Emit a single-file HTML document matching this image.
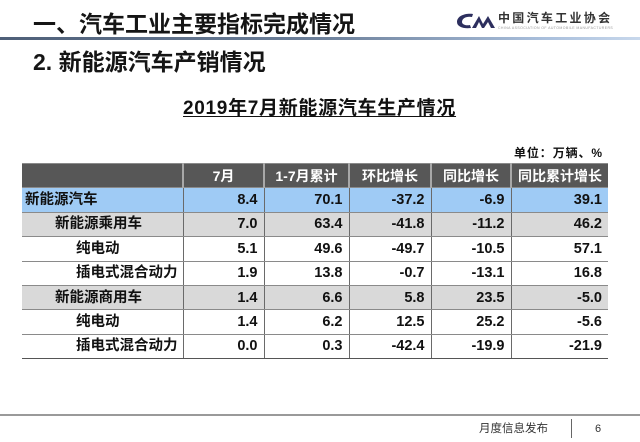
<!DOCTYPE html>
<html><head><meta charset="utf-8">
<style>
*{margin:0;padding:0;box-sizing:border-box}
body{width:640px;height:442px;background:#fff;position:relative;overflow:hidden;font-family:"Liberation Sans","Noto Sans CJK SC",sans-serif;color:#111}
.abs{position:absolute;white-space:nowrap}
.h1{left:33px;top:10px;font-size:23px;font-weight:bold;line-height:28px;color:#151515}
.h2{left:33px;top:48px;font-size:23px;font-weight:bold;line-height:28px;color:#151515}
.rule{left:0;top:37px;width:640px;height:3px;background:linear-gradient(to right,#4e5f78 0%,#6c7f99 50%,#a9bfdc 85%,#c8d8ec 100%)}
.title{left:183px;top:98px;font-size:19px;font-weight:bold;line-height:22px;text-decoration:underline;letter-spacing:0.7px;text-underline-offset:2px}
.unit{left:514px;top:146px;font-size:12px;font-weight:bold;line-height:14px;letter-spacing:0.9px}
table{position:absolute;left:22px;top:163px;border-collapse:collapse;font-weight:bold}
td{height:24.4px;font-size:14.5px;text-align:right;padding:0 6px 0 0;border-left:1.5px solid #6a6a6a;border-bottom:1px solid #8a8a8a;line-height:22px}
td:first-child{text-align:left;border-left:none;padding:0}
tr.hd td{background:#575757;color:#fff;text-align:center;padding:0;font-size:14px;border-left:2px solid #a8a8a8;border-top:1px solid #8a8a8a;border-bottom:1px solid #8a8a8a}
tr.hd td:first-child{border-left:none}
tr.b td{background:#9fcbf5}
tr.g td{background:#d9d9d9}
tr.last td{border-bottom:1.5px solid #555}
.foot{left:0;top:414px;width:640px;height:1.5px;background:#9a9a9a}
.ft{left:479px;top:422px;font-size:11.5px;color:#333;line-height:14px}
.sep{left:571px;top:419px;width:1px;height:19px;background:#666}
.pg{left:595px;top:422px;font-size:11px;color:#333;line-height:14px}
</style></head><body>
<div class="abs h1">一、汽车工业主要指标完成情况</div>
<div class="abs rule"></div>
<svg class="abs" style="left:455px;top:12px" width="42" height="18" viewBox="0 0 42 18">
<path d="M18 2 C10 1,2 4,2 10 C2 15,9 17,16 16 L15 13 C10 14,7 12,7 10 C7 6,12 4,17 5 Z" fill="#2d2f5e"/>
<path d="M17 16 L24 4 L28 12 L33 4 L40 16 L36 16 L33 10 L29 16 L27 16 L24 10 L21 16 Z" fill="#2d2f5e"/>
</svg>
<div class="abs" style="left:498px;top:11px;font-size:12px;font-weight:bold;letter-spacing:2.3px;color:#333;line-height:14px">中国汽车工业协会</div>
<div class="abs" style="left:498px;top:26px;font-size:3.5px;color:#999;letter-spacing:0.4px;line-height:4px">CHINA ASSOCIATION OF AUTOMOBILE MANUFACTURERS</div>
<div class="abs h2">2. 新能源汽车产销情况</div>
<div class="abs title">2019年7月新能源汽车生产情况</div>
<div class="abs unit">单位：万辆、%</div>
<table>
<colgroup><col style="width:161px"><col style="width:81px"><col style="width:85px"><col style="width:82px"><col style="width:80px"><col style="width:97px"></colgroup>
<tr class="hd"><td></td><td>7月</td><td>1-7月累计</td><td>环比增长</td><td>同比增长</td><td>同比累计增长</td></tr>
<tr class="b"><td style="padding-left:3px">新能源汽车</td><td>8.4</td><td>70.1</td><td>-37.2</td><td>-6.9</td><td>39.1</td></tr>
<tr class="g"><td style="padding-left:33px">新能源乘用车</td><td>7.0</td><td>63.4</td><td>-41.8</td><td>-11.2</td><td>46.2</td></tr>
<tr><td style="padding-left:54px">纯电动</td><td>5.1</td><td>49.6</td><td>-49.7</td><td>-10.5</td><td>57.1</td></tr>
<tr><td style="padding-left:54px">插电式混合动力</td><td>1.9</td><td>13.8</td><td>-0.7</td><td>-13.1</td><td>16.8</td></tr>
<tr class="g"><td style="padding-left:33px">新能源商用车</td><td>1.4</td><td>6.6</td><td>5.8</td><td>23.5</td><td>-5.0</td></tr>
<tr><td style="padding-left:54px">纯电动</td><td>1.4</td><td>6.2</td><td>12.5</td><td>25.2</td><td>-5.6</td></tr>
<tr class="last"><td style="padding-left:54px">插电式混合动力</td><td>0.0</td><td>0.3</td><td>-42.4</td><td>-19.9</td><td>-21.9</td></tr>
</table>
<div class="abs foot"></div>
<div class="abs ft">月度信息发布</div>
<div class="abs sep"></div>
<div class="abs pg">6</div>
</body></html>
